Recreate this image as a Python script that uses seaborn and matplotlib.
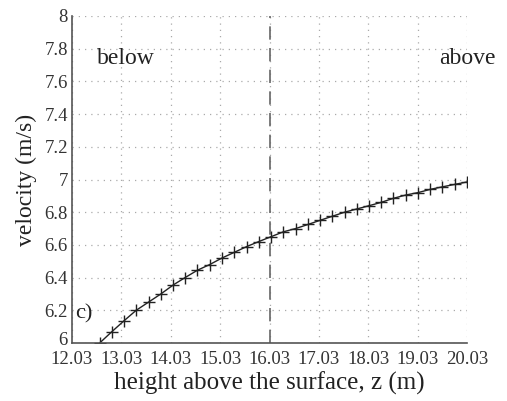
import matplotlib
matplotlib.use("Agg")
import matplotlib.pyplot as plt
import matplotlib.transforms as mtransforms
import seaborn as sns
import pandas as pd

height = [12.59, 12.84, 13.08, 13.33, 13.58, 13.83, 14.08, 14.32, 14.57, 14.82,
          15.07, 15.32, 15.57, 15.81, 16.06, 16.31, 16.56, 16.81, 17.05, 17.30,
          17.55, 17.80, 18.05, 18.29, 18.54, 18.79, 19.04, 19.29, 19.53, 19.78, 20.03]
velocity = [6.00, 6.07, 6.135, 6.20, 6.25, 6.30, 6.355, 6.40, 6.445, 6.48,
            6.52, 6.555, 6.59, 6.62, 6.65, 6.68, 6.70, 6.725, 6.75, 6.775,
            6.80, 6.82, 6.84, 6.86, 6.885, 6.905, 6.92, 6.94, 6.955, 6.97, 6.985]
xticks = [12.03, 13.03, 14.03, 15.03, 16.03, 17.03, 18.03, 19.03, 20.03]
xticklabels = ["12.03", "13.03", "14.03", "15.03", "16.03", "17.03", "18.03", "19.03", "20.03"]
yticks = [6, 6.2, 6.4, 6.6, 6.8, 7, 7.2, 7.4, 7.6, 7.8, 8]
yticklabels = ["6", "6.2", "6.4", "6.6", "6.8", "7", "7.2", "7.4", "7.6", "7.8", "8"]
surface_z = 16.03

sns.set_style("white")
plt.rcParams['font.family'] = ['Liberation Serif', 'DejaVu Serif']

df = pd.DataFrame({"z": height, "v": velocity})
fig = plt.figure(figsize=(5.07, 4.01), dpi=100)
ax = fig.add_axes([72/507, 1 - 343/401, (467-72)/507, (343-16)/401])

sns.lineplot(data=df, x="z", y="v", ax=ax, color="#222222", linewidth=1.0,
             marker="+", markersize=8, markeredgewidth=1.0, markeredgecolor="#222222")
ax.axvline(surface_z, color="#666666", linewidth=1.2, linestyle=(0, (8, 5)), zorder=1)

ax.set_xlim(12.03, 20.03)
ax.set_ylim(6, 8)
ax.set_xticks(xticks)
ax.set_xticklabels(xticklabels)
ax.set_yticks(yticks)
ax.set_yticklabels(yticklabels)
ax.grid(True, color="#aaaaaa", linestyle=(0, (1, 4)), linewidth=0.9)
for s in ["top", "right"]:
    ax.spines[s].set_visible(False)
for s in ["left", "bottom"]:
    ax.spines[s].set_color("#555555")
    ax.spines[s].set_linewidth(1.2)
ax.tick_params(direction="in", length=4, width=0.8, color="#555555",
               labelsize=13.5, labelcolor="#333333")
ax.tick_params(axis="x", pad=6)
ax.tick_params(axis="y", pad=3)
# lift the bottom "6" label slightly so it does not collide with "12.03"
lbl6 = ax.get_yticklabels()[0]
lbl6.set_transform(lbl6.get_transform() + mtransforms.ScaledTranslation(0, 3/72, fig.dpi_scale_trans))
ax.set_xlabel("height above the surface, z (m)", fontsize=18, color="#222222", labelpad=2)
ax.set_ylabel("velocity (m/s)", fontsize=17, color="#222222", labelpad=5)

ax.text(12.53, 7.74, "below", fontsize=17, color="#222222", va="center")
ax.text(20.03, 7.74, "above", fontsize=17, color="#222222", va="center", ha="center")
ax.text(12.1, 6.18, "c)", fontsize=16, color="#222222", va="center")

fig.savefig("out.png", dpi=100)
